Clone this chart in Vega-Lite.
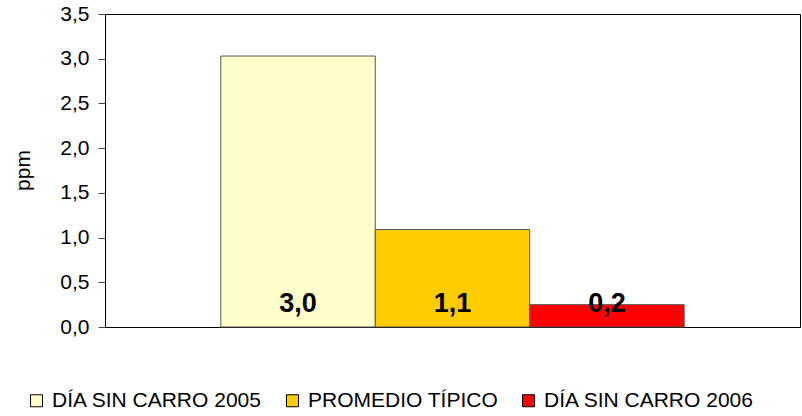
{
  "$schema": "https://vega.github.io/schema/vega-lite/v6.json",
  "width": 695,
  "height": 313,
  "autosize": {"type": "none"},
  "padding": {"left": 105, "top": 14, "right": 2, "bottom": 89},
  "background": "white",
  "data": {
    "values": [
      {"serie": "DÍA SIN CARRO 2005", "ppm": 3.03, "etiqueta": "3,0"},
      {"serie": "PROMEDIO TÍPICO", "ppm": 1.09, "etiqueta": "1,1"},
      {"serie": "DÍA SIN CARRO 2006", "ppm": 0.25, "etiqueta": "0,2"}
    ]
  },
  "encoding": {
    "x": {
      "field": "serie",
      "type": "nominal",
      "sort": ["DÍA SIN CARRO 2005", "PROMEDIO TÍPICO", "DÍA SIN CARRO 2006"],
      "scale": {"paddingInner": 0, "paddingOuter": 0.75},
      "axis": null
    }
  },
  "layer": [
    {
      "mark": {"type": "bar", "stroke": "#555555", "strokeWidth": 1},
      "encoding": {
        "y": {
          "field": "ppm",
          "type": "quantitative",
          "scale": {"domain": [0, 3.5], "nice": false},
          "axis": {
            "title": "ppm",
            "values": [0, 0.5, 1, 1.5, 2, 2.5, 3, 3.5],
            "format": ".1f",
            "grid": false,
            "domainColor": "black",
            "tickColor": "#444444",
            "tickSize": 7,
            "labelPadding": 9,
            "labelFontSize": 21,
            "labelColor": "black",
            "labelFont": "Liberation Sans",
            "titleFont": "Liberation Sans",
            "titleFontSize": 21,
            "titleFontWeight": "normal",
            "titleColor": "black",
            "titleX": -72,
            "titleY": 156
          }
        },
        "color": {
          "field": "serie",
          "type": "nominal",
          "sort": ["DÍA SIN CARRO 2005", "PROMEDIO TÍPICO", "DÍA SIN CARRO 2006"],
          "scale": {
            "domain": ["DÍA SIN CARRO 2005", "PROMEDIO TÍPICO", "DÍA SIN CARRO 2006"],
            "range": ["#FFFFCC", "#FFCC00", "#FF0000"]
          },
          "legend": {
            "title": null,
            "orient": "none",
            "direction": "horizontal",
            "columns": 3,
            "legendX": -79,
            "legendY": 376,
            "symbolType": "square",
            "symbolSize": 144,
            "symbolStrokeColor": "black",
            "symbolStrokeWidth": 1,
            "symbolOpacity": 1,
            "labelFont": "Liberation Sans",
            "labelFontSize": 21,
            "labelColor": "black",
            "labelOffset": 5,
            "columnPadding": 19,
            "labelLimit": 400
          }
        }
      }
    },
    {
      "mark": {
        "type": "text",
        "font": "Liberation Sans",
        "fontSize": 27,
        "fontWeight": "bold",
        "color": "black",
        "baseline": "alphabetic",
        "dy": -15
      },
      "encoding": {
        "y": {"datum": 0, "type": "quantitative"},
        "text": {"field": "etiqueta"}
      }
    }
  ],
  "config": {
    "locale": {
      "number": {"decimal": ",", "thousands": ".", "grouping": [3], "currency": ["", " €"]}
    },
    "view": {"stroke": "black", "strokeWidth": 1}
  }
}
